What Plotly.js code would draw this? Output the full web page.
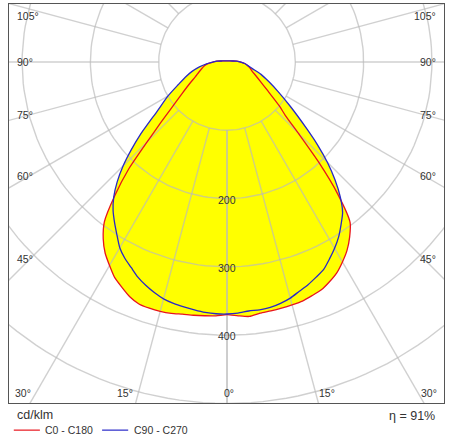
<!DOCTYPE html>
<html>
<head>
<meta charset="utf-8">
<script src="https://cdn.plot.ly/plotly-3.0.1.min.js"></script>
<style>
  html, body { margin: 0; padding: 0; background: #ffffff; }
  #chart { width: 453px; height: 440px; }
</style>
</head>
<body>
<div id="chart"></div>
<script>
// Luminous intensity distribution (cd/klm) per gamma angle, for the two C-planes.
const gamma = [0, 2.5, 5, 7.5, 10, 12.5, 15, 17.5, 20, 22.5, 25, 27.5, 30, 32.5, 35, 37.5,
               40, 42.5, 45, 47.5, 50, 55, 60, 65, 70, 75, 80, 85, 90, 95, 100, 110, 120,
               135, 150, 165, 180];

const c0 =   [370, 372, 374, 371, 370, 369, 368, 367, 364, 361, 355, 348, 338, 327, 313, 296,
              252, 198, 148, 116, 100, 72, 56, 46, 39, 35, 31, 26, 19, 14, 8.5, 4.4, 3,
              2.1, 1.8, 1.6, 1.6];
const c180 = [370, 372, 373, 374, 375, 377, 378, 378, 377, 372, 364, 356, 344, 332, 316, 295,
              256, 214, 165, 132, 108, 80, 63, 51, 44, 38.5, 34, 28, 20, 15, 8.5, 4.4, 3,
              2.1, 1.8, 1.6, 1.6];
const c90 =  [370, 368, 366, 366, 365, 362, 358, 352, 347, 341, 335, 325, 315, 304, 291, 278,
              258, 234, 208, 180, 153, 113, 86, 67, 53, 39, 31, 26, 19, 14, 8.5, 4.4, 3,
              2.1, 1.8, 1.6, 1.6];
const c270 = [369, 369, 368, 366, 364, 362, 359, 354, 348, 341, 332, 324, 314, 300, 287, 274,
              258, 238, 215, 190, 166, 124, 100, 79, 65, 53, 41, 30, 20, 15, 8.5, 4.4, 3,
              2.1, 1.8, 1.6, 1.6];

const seriesNames = ['C0 - C180', 'C90 - C270'];
const seriesColors = ['#e8141c', '#2828c8'];
const unitLabel = 'cd/klm';
const efficiency = 91;

// Polar grid: intensity rings and gamma spokes.
const ringValues = [100, 200, 300, 400, 500, 600];
const ringLabels = [200, 300, 400];
const spokeAngles = [0, 15, 30, 45, 60, 75, 90, 105, 120, 135, 150, 165, 180];
const sideAngleLabels = [105, 90, 75, 60, 45];
const bottomAngleLabels = [-30, -15, 0, 15, 30];

const rad = d => d * Math.PI / 180;

// Closed outline of one C-plane pair: left half from 180 down to 0, right half back up to 180.
function planeOutline(left, right) {
  const x = [], y = [];
  for (let i = gamma.length - 1; i >= 0; i--) {
    x.push(-left[i] * Math.sin(rad(gamma[i])));
    y.push(-left[i] * Math.cos(rad(gamma[i])));
  }
  for (let i = 1; i < gamma.length; i++) {
    x.push(right[i] * Math.sin(rad(gamma[i])));
    y.push(-right[i] * Math.cos(rad(gamma[i])));
  }
  return { x, y };
}

const planeA = planeOutline(c180, c0);
const planeB = planeOutline(c270, c90);

// Grid traces
const ringX = [], ringY = [];
ringValues.forEach(r => {
  for (let a = 0; a <= 360; a += 2) {
    ringX.push(r * Math.sin(rad(a)));
    ringY.push(-r * Math.cos(rad(a)));
  }
  ringX.push(null); ringY.push(null);
});
const spokeX = [], spokeY = [];
spokeAngles.forEach(a => {
  [-1, 1].forEach(s => {
    spokeX.push(s * ringValues[0] * Math.sin(rad(a)), s * 900 * Math.sin(rad(a)), null);
    spokeY.push(-ringValues[0] * Math.cos(rad(a)), -900 * Math.cos(rad(a)), null);
  });
});

const gridColor = 'rgba(185,185,185,0.68)';
const curveShape = { shape: 'spline', smoothing: 0.6 };
const traces = [
  { x: planeA.x, y: planeA.y, mode: 'lines', fill: 'toself', fillcolor: '#ffff00',
    line: Object.assign({ width: 0 }, curveShape), hoverinfo: 'skip', showlegend: false },
  { x: planeB.x, y: planeB.y, mode: 'lines', fill: 'toself', fillcolor: '#ffff00',
    line: Object.assign({ width: 0 }, curveShape), hoverinfo: 'skip', showlegend: false },
  { x: ringX, y: ringY, mode: 'lines', line: { color: gridColor, width: 1.4 },
    hoverinfo: 'skip', showlegend: false },
  { x: spokeX, y: spokeY, mode: 'lines', line: { color: gridColor, width: 1.4 },
    hoverinfo: 'skip', showlegend: false },
  { x: planeA.x, y: planeA.y, mode: 'lines', name: seriesNames[0],
    line: Object.assign({ color: seriesColors[0], width: 1.3 }, curveShape), showlegend: false },
  { x: planeB.x, y: planeB.y, mode: 'lines', name: seriesNames[1],
    line: Object.assign({ color: seriesColors[1], width: 1.3 }, curveShape), showlegend: false }
];

const font = 'Liberation Sans, Arial, sans-serif';
const textColor = '#333333';
const annotations = [];

ringLabels.forEach(r => {
  annotations.push({ x: 0, y: -r, xref: 'x', yref: 'y', text: String(r), showarrow: false,
    xanchor: 'center', yanchor: 'middle', yshift: -1,
    font: { family: font, size: 10.5, color: textColor } });
});

sideAngleLabels.forEach(a => {
  const yy = Math.min(-288 * Math.cos(rad(a)) / Math.sin(rad(a)), 67);
  annotations.push({ x: -310, y: yy, xref: 'x', yref: 'y', text: a + '°', showarrow: false,
    xanchor: 'left', yanchor: 'middle', font: { family: font, size: 10.5, color: textColor } });
  annotations.push({ x: 309, y: yy, xref: 'x', yref: 'y', text: a + '°', showarrow: false,
    xanchor: 'right', yanchor: 'middle', font: { family: font, size: 10.5, color: textColor } });
});

bottomAngleLabels.forEach(a => {
  const yy = -484.6;
  const xx = -yy * Math.tan(rad(a));
  annotations.push({ x: xx, y: yy, xref: 'x', yref: 'y', text: Math.abs(a) + '°', showarrow: false,
    xanchor: a < 0 ? 'right' : (a > 0 ? 'left' : 'center'),
    xshift: a < 0 ? -3 : (a > 0 ? 1 : 2), yanchor: 'middle',
    font: { family: font, size: 10.5, color: textColor } });
});

// Footer: unit, legend and efficiency
annotations.push({ x: 0.0138, y: -0.030, xref: 'paper', yref: 'paper', text: unitLabel,
  showarrow: false, xanchor: 'left', yanchor: 'middle',
  font: { family: font, size: 12.5, color: textColor } });
annotations.push({ x: 0.078, y: -0.067, xref: 'paper', yref: 'paper', text: seriesNames[0],
  showarrow: false, xanchor: 'left', yanchor: 'middle',
  font: { family: font, size: 10.5, color: textColor } });
annotations.push({ x: 0.283, y: -0.067, xref: 'paper', yref: 'paper', text: seriesNames[1],
  showarrow: false, xanchor: 'left', yanchor: 'middle',
  font: { family: font, size: 10.5, color: textColor } });
annotations.push({ x: 0.9836, y: -0.032, xref: 'paper', yref: 'paper', text: 'η = ' + efficiency + '%',
  showarrow: false, xanchor: 'right', yanchor: 'middle',
  font: { family: font, size: 12.5, color: textColor } });

const shapes = [
  { type: 'line', xref: 'paper', yref: 'paper', x0: 0.011, x1: 0.071, y0: -0.068, y1: -0.068,
    line: { color: seriesColors[0], width: 1.2 } },
  { type: 'line', xref: 'paper', yref: 'paper', x0: 0.214, x1: 0.274, y0: -0.068, y1: -0.068,
    line: { color: seriesColors[1], width: 1.2 } }
];

const axisCommon = { showgrid: false, zeroline: false, showticklabels: false, ticks: '',
  showline: true, mirror: true, linecolor: '#555555', linewidth: 1, fixedrange: true };

const layout = {
  width: 453, height: 440,
  margin: { l: 9, r: 9, t: 4, b: 37, pad: 0 },
  paper_bgcolor: '#ffffff', plot_bgcolor: '#ffffff',
  xaxis: Object.assign({ range: [-319.2, 317.7] }, axisCommon),
  yaxis: Object.assign({ range: [-499.3, 84.9] }, axisCommon),
  showlegend: false,
  annotations, shapes
};

Plotly.newPlot('chart', traces, layout, { displayModeBar: false, staticPlot: true });
</script>
</body>
</html>
